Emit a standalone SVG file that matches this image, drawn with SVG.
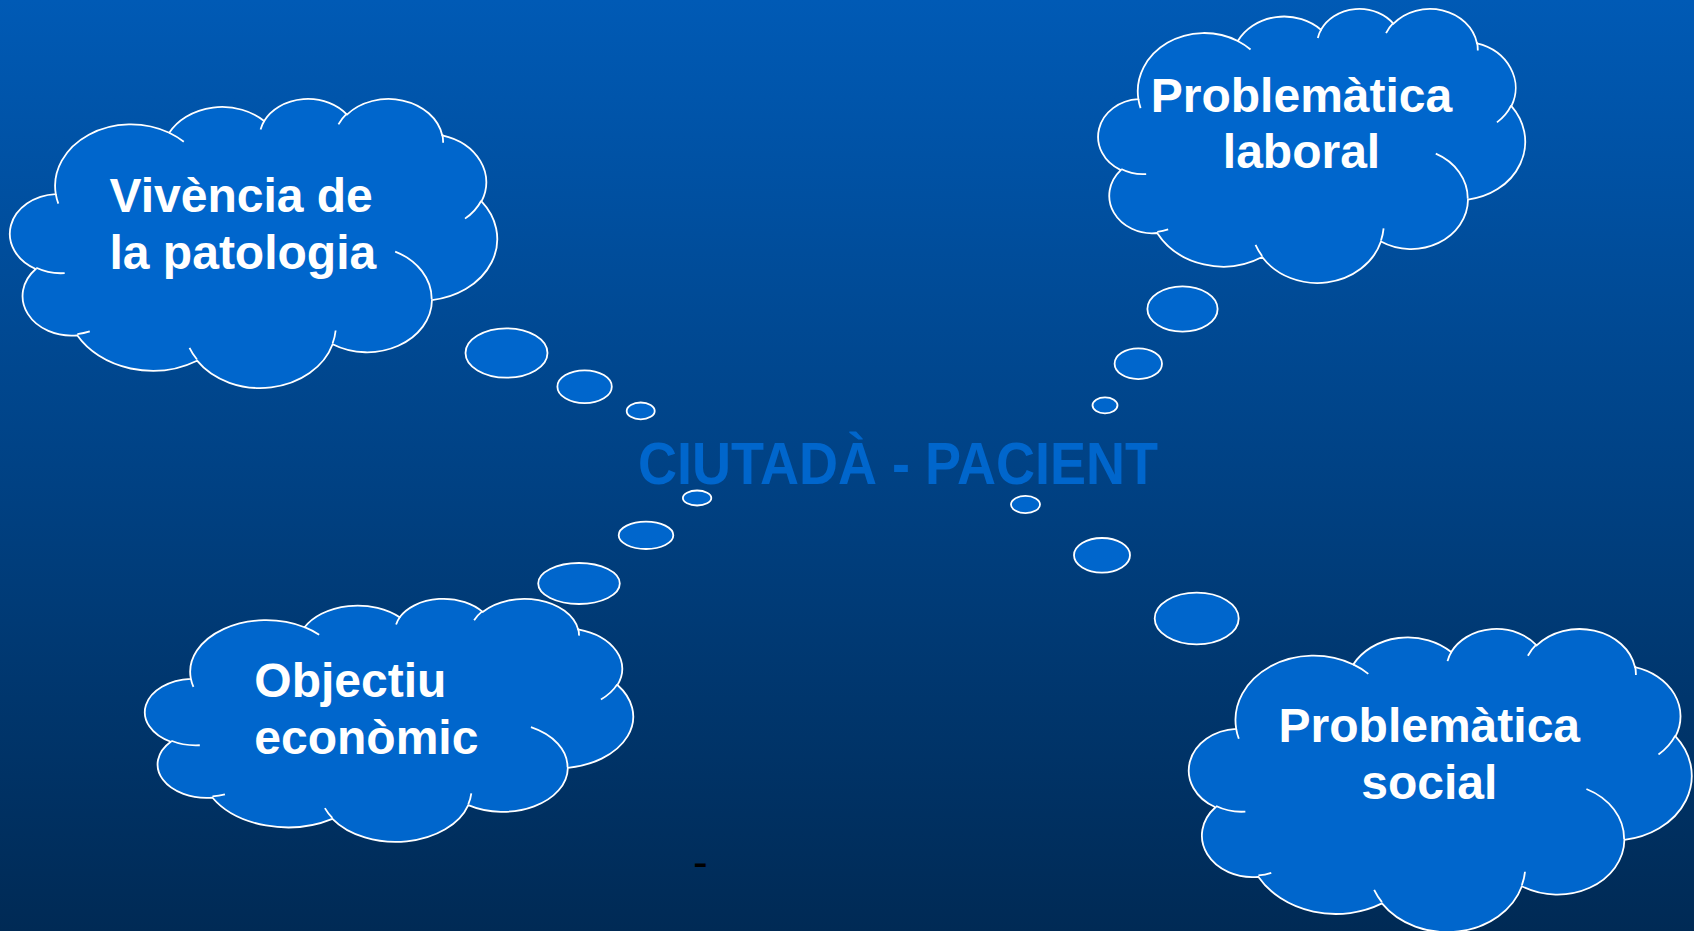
<svg xmlns="http://www.w3.org/2000/svg" width="1694" height="931" viewBox="0 0 1694 931">
  <defs>
    <linearGradient id="bg" x1="0" y1="0" x2="0" y2="1">
      <stop offset="0" stop-color="#005AB5"/>
      <stop offset="1" stop-color="#002A55"/>
    </linearGradient>
    <!-- cloud outline drawn on a 43200 x 43200 unit frame -->
    <path id="cloud-outline" class="cloud-body" vector-effect="non-scaling-stroke"
      d="M3900 14370 A6753 9190 0 0 1 14005 5202 A5333 7267 0 0 1 22458 3432 A4365 5945 0 0 1 29835 2479 A4857 6595 0 0 1 38320 5576 A5333 7273 0 0 1 41820 15459 A6775 9220 0 0 1 37407 30204 A5785 7867 0 0 1 28558 36814 A6752 9215 0 0 1 16483 39266 A7720 10543 0 0 1 5808 35473 A4360 5918 0 0 1 2114 25556 A4345 5945 0 0 1 3900 14370 Z"/>
    <!-- inner puff seams -->
    <path id="cloud-detail" class="cloud-seam" vector-effect="non-scaling-stroke"
      d="M4693 26177 A4345 5945 0 0 1 2159 25380 M6928 34899 A4360 5918 0 0 1 5820 35281 M16478 39090 A6752 9215 0 0 1 15810 37349 M28827 34751 A6752 9215 0 0 1 28560 36660 M34129 22954 A5785 7867 0 0 1 37380 30090 M41798 15354 A5333 7273 0 0 1 40349 18032 M38324 5426 A4857 6595 0 0 1 38400 6690 M29078 3952 A4857 6595 0 0 1 29820 2339 M22141 4720 A4365 5945 0 0 1 22500 3331 M14000 5192 A6753 9190 0 0 1 15303 6544 M4127 15789 A6753 9190 0 0 1 3900 14371"/>
  </defs>
  <style>
    .cloud-body { fill: #0066CC; stroke: #FFFFFF; stroke-width: 1.8; }
    .cloud-seam { fill: none; stroke: #FFFFFF; stroke-width: 1.8; }
    .bubble { fill: #0066CC; stroke: #FFFFFF; stroke-width: 1.8; }
    .label { font-family: "Liberation Sans", Arial, sans-serif; font-weight: bold; font-size: 48px; fill: #FFFFFF; }
    .mid { text-anchor: middle; }
    .title { font-family: "Liberation Sans", Arial, sans-serif; font-weight: bold; font-size: 60px; fill: #0066CC; }
  </style>

  <rect x="0" y="0" width="1694" height="931" fill="url(#bg)"/>

  <!-- thought trails between the clouds and the centre -->
  <g id="connectors">
    <g id="trail-vivencia">
      <ellipse class="bubble" cx="506.5" cy="353" rx="41" ry="24.7"/>
      <ellipse class="bubble" cx="584.6" cy="386.7" rx="27.2" ry="16.4"/>
      <ellipse class="bubble" cx="640.7" cy="410.9" rx="14" ry="8.4"/>
    </g>
    <g id="trail-objectiu">
      <ellipse class="bubble" cx="697.1" cy="498" rx="14.2" ry="7.5"/>
      <ellipse class="bubble" cx="646" cy="535.3" rx="27.3" ry="13.7"/>
      <ellipse class="bubble" cx="579" cy="583.5" rx="40.8" ry="20.5"/>
    </g>
    <g id="trail-laboral">
      <ellipse class="bubble" cx="1182.5" cy="309" rx="35.1" ry="22.7"/>
      <ellipse class="bubble" cx="1138.3" cy="363.7" rx="23.7" ry="15.4"/>
      <ellipse class="bubble" cx="1105" cy="405.3" rx="12.5" ry="8"/>
    </g>
    <g id="trail-social">
      <ellipse class="bubble" cx="1025.5" cy="504.5" rx="14.5" ry="8.6"/>
      <ellipse class="bubble" cx="1102" cy="555.3" rx="28" ry="17.3"/>
      <ellipse class="bubble" cx="1196.7" cy="618.5" rx="42" ry="25.8"/>
    </g>
  </g>

  <g id="vivencia-patologia">
    <g transform="translate(12 98) scale(0.011227 0.00669)">
      <use href="#cloud-outline"/>
      <use href="#cloud-detail"/>
    </g>
    <text class="label" x="109.5" y="211.7">Vivència de</text>
    <text class="label" x="109.5" y="269">la patologia</text>
  </g>

  <g id="problematica-laboral">
    <g transform="translate(1100 8) scale(0.009838 0.006343)">
      <use href="#cloud-outline"/>
      <use href="#cloud-detail"/>
    </g>
    <text class="label mid" x="1301.5" y="111.7">Problemàtica</text>
    <text class="label mid" x="1301.5" y="168.3">laboral</text>
  </g>

  <g id="objectiu-economic">
    <g transform="translate(147 598) scale(0.01125 0.005625)">
      <use href="#cloud-outline"/>
      <use href="#cloud-detail"/>
    </g>
    <text class="label" x="254.3" y="696.5">Objectiu</text>
    <text class="label" x="254.3" y="754.3">econòmic</text>
  </g>

  <g id="problematica-social">
    <g transform="translate(1191 628) scale(0.011586 0.007014)">
      <use href="#cloud-outline"/>
      <use href="#cloud-detail"/>
    </g>
    <text class="label mid" x="1429.3" y="741.7">Problemàtica</text>
    <text class="label mid" x="1429.3" y="799">social</text>
  </g>

  <g id="ciutada-pacient">
    <text class="title" x="638" y="484" textLength="520" lengthAdjust="spacingAndGlyphs">CIUTADÀ - PACIENT</text>
  </g>

  <text x="693" y="877" font-family="Liberation Sans, Arial, sans-serif" font-size="44" fill="#000000">-</text>
</svg>
